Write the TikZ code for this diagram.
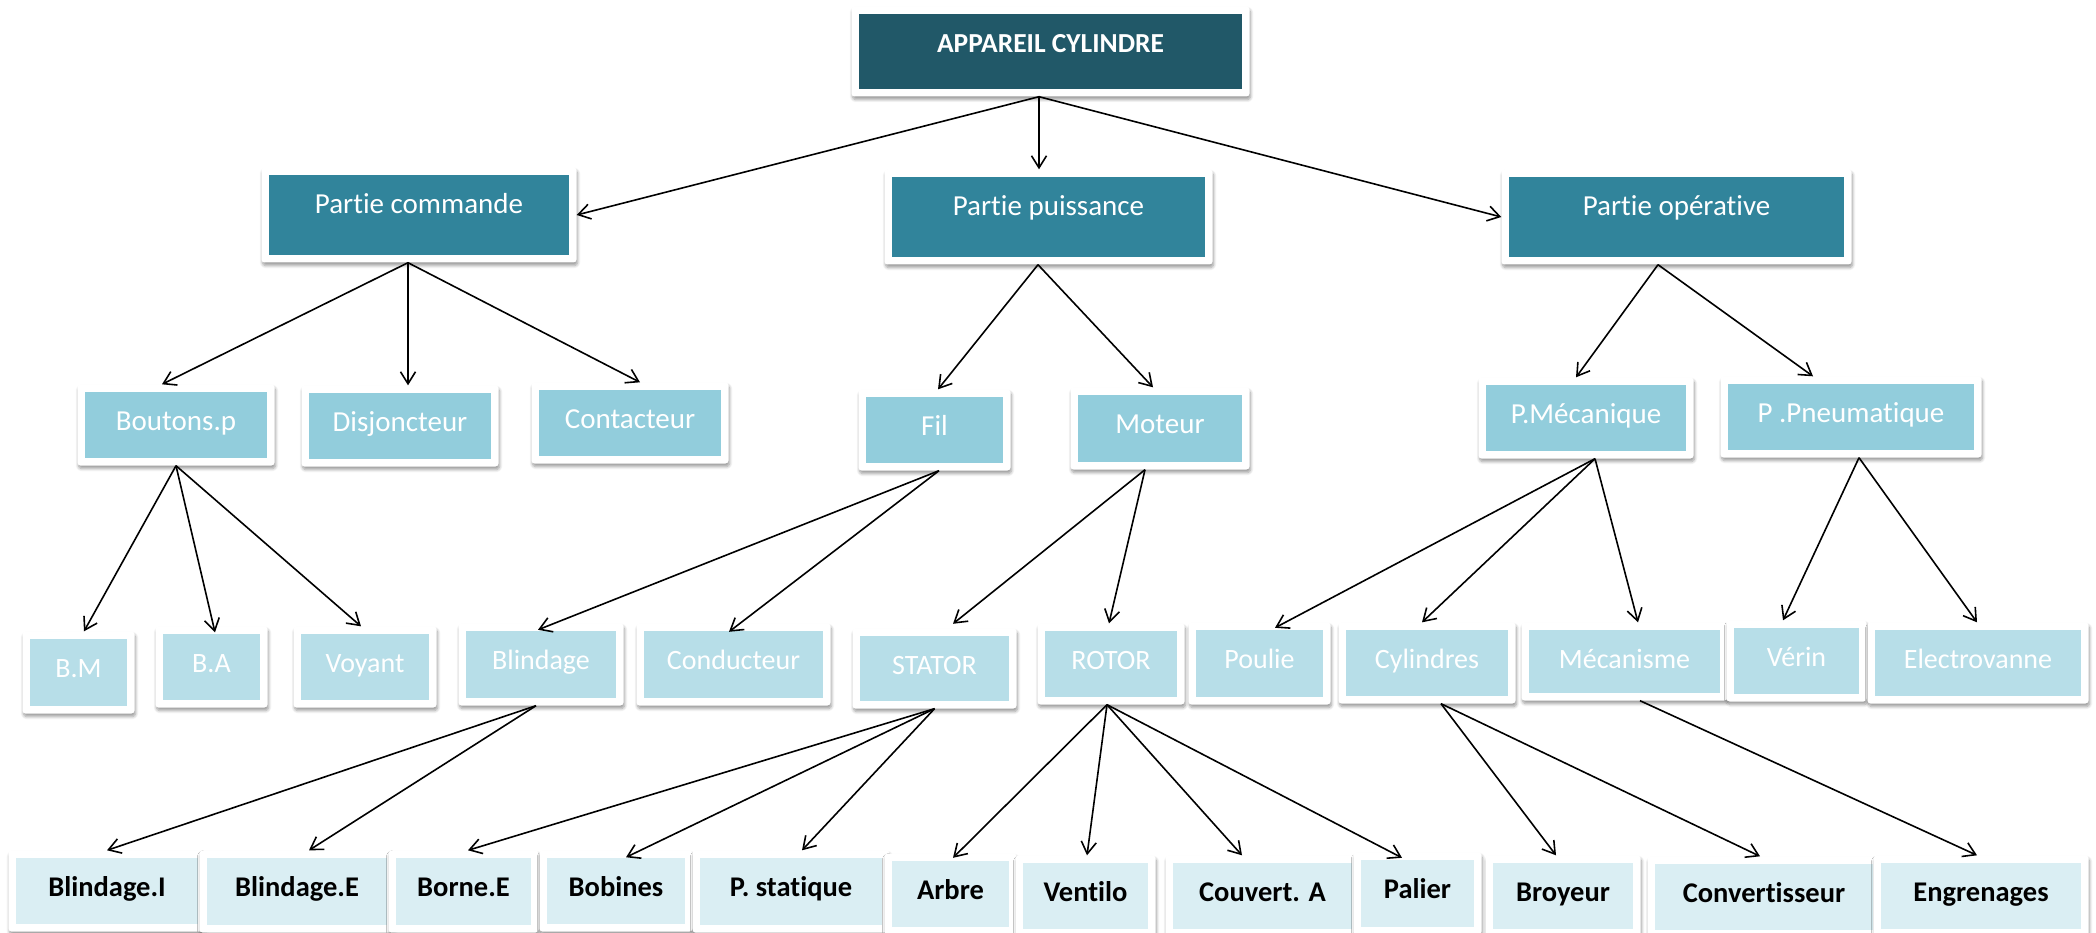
\documentclass[tikz,border=0pt]{standalone}
\usepackage{fontspec}
\setmainfont{Carlito}[Ligatures=NoCommon]
\usetikzlibrary{arrows.meta,shadows.blur}

\definecolor{rootfill}{HTML}{215868}
\definecolor{partfill}{HTML}{31849B}
\definecolor{lvltwo}{HTML}{92CDDC}
\definecolor{lvlthree}{HTML}{B7DEE8}
\definecolor{lvlfour}{HTML}{DAEEF3}

\tikzset{
  box/.style={rectangle, rounded corners=3pt, fill=white, inner xsep=0pt, inner ysep=0pt,
    text height=46pt,
    blur shadow={shadow xshift=1pt, shadow yshift=-3pt, shadow blur steps=6, shadow blur radius=3pt, shadow opacity=40},
    path picture={\fill[#1, sharp corners]
      ([shift={(7.5pt,7.5pt)}]path picture bounding box.south west) rectangle
      ([shift={(-7.5pt,-7.5pt)}]path picture bounding box.north east);}},
  rootbox/.style={box=rootfill, text=white, font=\fontsize{27.5}{32}\selectfont\bfseries},
  partbox/.style={box=partfill, text=white, font=\fontsize{29}{34}\selectfont},
  twobox/.style={box=lvltwo, text=white, font=\fontsize{29}{34}\selectfont},
  threebox/.style={box=lvlthree, text=white, font=\fontsize{28}{33}\selectfont},
  fourbox/.style={box=lvlfour, text=black, font=\fontsize{28.5}{33}\selectfont\bfseries},
  arr/.style={-{Straight Barb[length=12pt,width=15pt]}, line width=1.6pt, black},
}

\begin{document}
\begin{tikzpicture}[x=1pt, y=-1pt]
\useasboundingbox (0,0) rectangle (2096,933);

% root and the three main parts
\node[rootbox, minimum width=398pt, text depth=44pt] (app) at (1050.5,51.5) {APPAREIL CYLINDRE};
\node[partbox, minimum width=315pt, text depth=49pt] (pc) at (419,215) {Partie commande};
\node[partbox, minimum width=328pt, text depth=49pt] (pp) at (1048.5,217) {Partie puissance};
\node[partbox, minimum width=350pt, text depth=49pt] (po) at (1676.5,217) {Partie opérative};

% second level
\node[twobox, minimum width=197pt, text depth=35pt] (bp)  at (176,425) {Boutons.p};
\node[twobox, minimum width=197pt, text depth=35pt] (dj)  at (400,426) {Disjoncteur};
\node[twobox, minimum width=197pt, text depth=35pt] (ct)  at (630,423) {Contacteur};
\node[twobox, minimum width=152pt, text depth=35pt] (fil) at (934.5,430) {Fil};
\node[twobox, minimum width=179pt, text depth=36pt] (mot) at (1160,428.5) {Moteur};
\node[twobox, minimum width=215pt, text depth=35pt] (pm)  at (1586,418) {P.Mécanique};
\node[twobox, minimum width=261pt, text depth=35pt] (ppn) at (1851,417) {P .Pneumatique};

% third level
\node[threebox, minimum width=112pt, text depth=36pt] (bm)     at (78.5,672.5) {B.M};
\node[threebox, minimum width=112pt, text depth=35pt] (ba)     at (211.5,667) {B.A};
\node[threebox, minimum width=143pt, text depth=35pt] (voy)    at (365,667) {Voyant};
\node[threebox, minimum width=165pt, text depth=36pt] (bli)    at (541,664.5) {Blindage};
\node[threebox, minimum width=194pt, text depth=36pt] (cond)   at (733.5,664.5) {Conducteur};
\node[threebox, minimum width=164pt, text depth=34pt] (stator) at (934.5,668.5) {STATOR};
\node[threebox, minimum width=147pt, text depth=35pt] (rotor)  at (1111,664) {ROTOR};
\node[threebox, minimum width=142pt, text depth=36pt] (poulie) at (1259.5,663.5) {Poulie};
\node[threebox, minimum width=177pt, text depth=35pt] (cyl)    at (1427,663) {Cylindres};
\node[threebox, minimum width=206pt, text depth=32pt] (meca)   at (1624.5,661.5) {Mécanisme};
\node[threebox, minimum width=140pt, text depth=35pt] (verin)  at (1796.5,661) {Vérin};
\node[threebox, minimum width=221pt, text depth=35pt] (elec)   at (1978,663) {Electrovanne};

% fourth level
\node[fourbox, minimum width=197pt, text depth=35pt] (bi)    at (107,891) {Blindage.I};
\node[fourbox, minimum width=195pt, text depth=36pt] (be)    at (297,891.5) {Blindage.E};
\node[fourbox, minimum width=150pt, text depth=36pt] (borne) at (463.5,891.5) {Borne.E};
\node[fourbox, minimum width=153pt, text depth=35pt] (bob)   at (616,891) {Bobines};
\node[fourbox, minimum width=197pt, text depth=36pt] (pstat) at (791,891.5) {P. statique};
\node[fourbox, minimum width=132pt, text depth=35pt] (arbre) at (950.5,894) {Arbre};
\node[fourbox, minimum width=140pt, text depth=35pt] (vent)  at (1085.5,896) {Ventilo};
\node[fourbox, minimum width=194pt, text depth=35pt] (couv)  at (1262.5,896) {Couvert. A};
\node[fourbox, minimum width=128pt, text depth=36pt] (pal)   at (1417.5,893.5) {Palier};
\node[fourbox, minimum width=155pt, text depth=35pt] (broy)  at (1563,896) {Broyeur};
\node[fourbox, minimum width=233pt, text depth=35pt] (conv)  at (1764,897) {Convertisseur};
\node[fourbox, minimum width=215pt, text depth=35pt] (engr)  at (1981,896) {Engrenages};

% outgoing points on the parents' lower edges
\coordinate (appout) at ([xshift=-11.5pt]app.south);
\coordinate (pcout)  at ([xshift=-11pt]pc.south);
\coordinate (ppout)  at ([xshift=-10.5pt]pp.south);
\coordinate (poout)  at ([xshift=-18.5pt]po.south);
\coordinate (bpout)  at (bp.south);
\coordinate (filout) at ([xshift=4.5pt]fil.south);
\coordinate (motout) at ([xshift=-15pt]mot.south);
\coordinate (pmout)  at ([xshift=9pt]pm.south);
\coordinate (ppnout) at ([xshift=8pt]ppn.south);
\coordinate (bliout) at ([xshift=-5pt]bli.south);
\coordinate (staout) at (stator.south);
\coordinate (rotout) at ([xshift=-4pt]rotor.south);
\coordinate (cylout) at ([xshift=14pt]cyl.south);
\coordinate (mecout) at ([xshift=15.5pt]meca.south);

% connectors
\draw[arr] (appout) -- (pc.east);
\draw[arr] (appout) -- (appout |- pp.north);
\draw[arr] (appout) -- (po.west);

\draw[arr] (pcout) -- ([xshift=-14pt]bp.north);
\draw[arr] (pcout) -- (pcout |- dj.north);
\draw[arr] (pcout) -- ([xshift=10pt]ct.north);

\draw[arr] (ppout) -- ([xshift=3.5pt]fil.north);
\draw[arr] (ppout) -- ([xshift=-7pt]mot.north);

\draw[arr] (poout) -- ([xshift=-10pt]pm.north);
\draw[arr] (poout) -- ([xshift=-38pt]ppn.north);

\draw[arr] (bpout) -- ([xshift=5.5pt]bm.north);
\draw[arr] (bpout) -- ([shift={(3.5,6)}]ba.north);
\draw[arr] (bpout) -- ([xshift=-4pt]voy.north);

\draw[arr] (filout) -- ([shift={(-3,6.5)}]bli.north);
\draw[arr] (filout) -- ([shift={(-4.5,8.5)}]cond.north);

\draw[arr] (motout) -- ([shift={(18.5,-4.5)}]stator.north);
\draw[arr] (motout) -- ([xshift=-2pt]rotor.north);

\draw[arr] (pmout) -- ([shift={(15.5,5.5)}]poulie.north);
\draw[arr] (pmout) -- ([xshift=-5pt]cyl.north);
\draw[arr] (pmout) -- ([xshift=13.5pt]meca.north);

\draw[arr] (ppnout) -- ([xshift=-13.5pt]verin.north);
\draw[arr] (ppnout) -- ([xshift=-1pt]elec.north);

\draw[arr] (bliout) -- (bi.north);
\draw[arr] (bliout) -- ([xshift=12pt]be.north);

\draw[arr] (staout) -- ([xshift=4.5pt]borne.north);
\draw[arr] (staout) -- ([shift={(10,7)}]bob.north);
\draw[arr] (staout) -- ([xshift=11pt]pstat.north);

\draw[arr] (rotout) -- ([shift={(2.5,4.5)}]arbre.north);
\draw[arr] (rotout) -- ([xshift=1.5pt]vent.north);
\draw[arr] (rotout) -- ([xshift=-20.5pt]couv.north);
\draw[arr] (rotout) -- ([shift={(-15.5,5.5)}]pal.north);

\draw[arr] (cylout) -- ([xshift=-7pt]broy.north);
\draw[arr] (cylout) -- ([xshift=-4pt]conv.north);

\draw[arr] (mecout) -- ([xshift=-4pt]engr.north);
\end{tikzpicture}
\end{document}
